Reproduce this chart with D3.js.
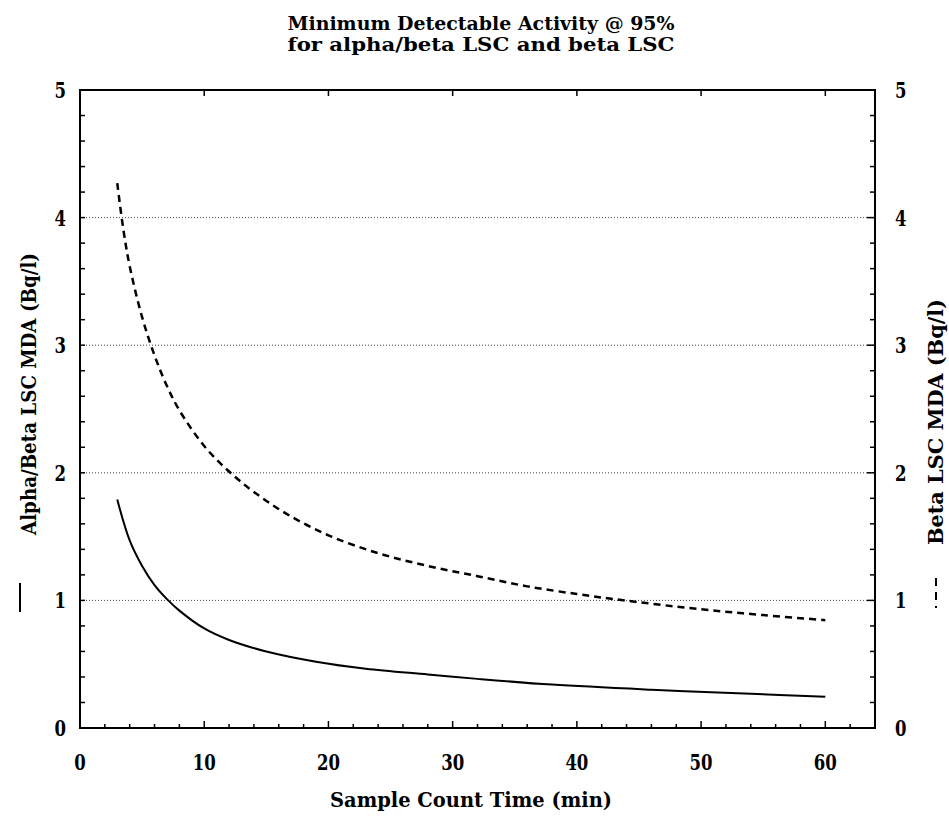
<!DOCTYPE html>
<html>
<head>
<meta charset="utf-8">
<script src="https://cdn.jsdelivr.net/npm/d3@7"></script>
<style>
  body { margin: 0; background: #fff; }
  text { font-family: "DejaVu Serif", serif; font-weight: bold; fill: #000; }
</style>
</head>
<body>
<svg width="949" height="832"></svg>
<script>
// values
const alphaBetaTime = [3, 4, 5, 6, 7, 8, 10, 12, 15, 19, 23, 28, 32, 38, 46, 54, 60]
const alphaBetaMDA  = [1.79, 1.47, 1.27, 1.12, 1.01, 0.92, 0.78, 0.69, 0.60, 0.52, 0.465, 0.42, 0.385, 0.34, 0.30, 0.268, 0.245]

const betaTime = [3, 3.5, 4, 5, 6, 7, 8, 10, 12, 14, 16.6, 20, 24, 28, 32, 36, 40, 43, 50, 55, 60]
const betaMDA  = [4.27, 3.90, 3.62, 3.22, 2.92, 2.68, 2.49, 2.21, 2.01, 1.85, 1.68, 1.51, 1.37, 1.27, 1.19, 1.11, 1.05, 1.01, 0.93, 0.885, 0.845]

const xTicks = [0, 10, 20, 30, 40, 50, 60]
const yTicks = [0, 1, 2, 3, 4, 5]

const titleLines = ["Minimum Detectable Activity @ 95%", "for alpha/beta LSC and beta LSC"]

const svg = d3.select("svg")
const plot = {left: 80, right: 875, top: 90, bottom: 728}

const x = d3.scaleLinear().domain([0, 64]).range([plot.left, plot.right])
const y = d3.scaleLinear().domain([0, 5]).range([plot.bottom, plot.top])

// dotted grid at the inner integers
svg.append("g").selectAll("line")
  .data(yTicks.filter(d => d > 0 && d < 5)).enter()
  .append("line")
  .attr("x1", plot.left).attr("x2", plot.right)
  .attr("y1", d => y(d)).attr("y2", d => y(d))
  .attr("stroke", "#444").attr("stroke-width", 1)
  .attr("stroke-dasharray", "1,2")

// minor / major ticks
const g = svg.append("g").attr("stroke", "#000").attr("stroke-width", 1.5)
g.selectAll("line.bx").data(d3.range(0, 65, 2)).enter().append("line")
  .attr("x1", d => x(d)).attr("x2", d => x(d))
  .attr("y1", plot.bottom).attr("y2", d => d % 10 === 0 ? plot.bottom - 7 : plot.bottom - 4)
g.selectAll("line.tx").data(xTicks.filter(d => d > 0)).enter().append("line")
  .attr("x1", d => x(d)).attr("x2", d => x(d))
  .attr("y1", plot.top).attr("y2", plot.top + 6)
const ySmall = d3.range(0, 26).map(i => i / 5)
g.selectAll("line.ly").data(ySmall).enter().append("line")
  .attr("x1", plot.left).attr("x2", plot.left + 5)
  .attr("y1", d => y(d)).attr("y2", d => y(d))
g.selectAll("line.ry").data(ySmall).enter().append("line")
  .attr("x1", plot.right).attr("x2", d => Number.isInteger(d) ? plot.right - 8 : plot.right - 5)
  .attr("y1", d => y(d)).attr("y2", d => y(d))

// frame
svg.append("rect")
  .attr("x", plot.left).attr("y", plot.top)
  .attr("width", plot.right - plot.left).attr("height", plot.bottom - plot.top)
  .attr("fill", "none").attr("stroke", "#000").attr("stroke-width", 2)

// tick labels
svg.append("g").selectAll("text").data(xTicks).enter().append("text")
  .attr("x", d => x(d)).attr("y", 770)
  .attr("text-anchor", "middle").style("font-size", "23px")
  .attr("textLength", d => String(d).length * 11.5).attr("lengthAdjust", "spacingAndGlyphs")
  .text(d => d)
svg.append("g").selectAll("text").data(yTicks).enter().append("text")
  .attr("x", 66).attr("y", d => y(d) + 8)
  .attr("text-anchor", "end").style("font-size", "23px")
  .attr("textLength", 11.5).attr("lengthAdjust", "spacingAndGlyphs")
  .text(d => d)
svg.append("g").selectAll("text").data(yTicks).enter().append("text")
  .attr("x", 895).attr("y", d => y(d) + 8)
  .attr("text-anchor", "start").style("font-size", "23px")
  .attr("textLength", 11.5).attr("lengthAdjust", "spacingAndGlyphs")
  .text(d => d)

// titles
svg.append("g").selectAll("text").data(titleLines).enter().append("text")
  .attr("x", 481).attr("y", (d, i) => 30 + i * 21)
  .attr("text-anchor", "middle").style("font-size", "19px")
  .attr("textLength", 387).attr("lengthAdjust", "spacingAndGlyphs")
  .text(d => d)

svg.append("text")
  .attr("x", 471).attr("y", 807)
  .attr("text-anchor", "middle").style("font-size", "20px")
  .attr("textLength", 282).attr("lengthAdjust", "spacingAndGlyphs")
  .text("Sample Count Time (min)")

svg.append("text")
  .attr("transform", "translate(36,394) rotate(-90)")
  .attr("text-anchor", "middle").style("font-size", "20px")
  .attr("textLength", 282).attr("lengthAdjust", "spacingAndGlyphs")
  .text("Alpha/Beta LSC MDA (Bq/l)")

svg.append("text")
  .attr("transform", "translate(943,422) rotate(-90)")
  .attr("text-anchor", "middle").style("font-size", "20px")
  .attr("textLength", 246).attr("lengthAdjust", "spacingAndGlyphs")
  .text("Beta LSC MDA (Bq/l)")

// legend marks beside the axis titles
svg.append("line").attr("x1", 20).attr("x2", 20).attr("y1", 583).attr("y2", 612)
  .attr("stroke", "#000").attr("stroke-width", 2)
svg.append("line").attr("x1", 936).attr("x2", 936).attr("y1", 578).attr("y2", 608)
  .attr("stroke", "#000").attr("stroke-width", 2).attr("stroke-dasharray", "8,6")

// curves
const line = d3.line().x(d => x(d[0])).y(d => y(d[1])).curve(d3.curveCatmullRom)

svg.append("path")
  .datum(d3.zip(alphaBetaTime, alphaBetaMDA))
  .attr("d", line)
  .attr("fill", "none").attr("stroke", "#000").attr("stroke-width", 2)

svg.append("path")
  .datum(d3.zip(betaTime, betaMDA))
  .attr("d", line)
  .attr("fill", "none").attr("stroke", "#000").attr("stroke-width", 2.5)
  .attr("stroke-dasharray", "7,5")
</script>
</body>
</html>
